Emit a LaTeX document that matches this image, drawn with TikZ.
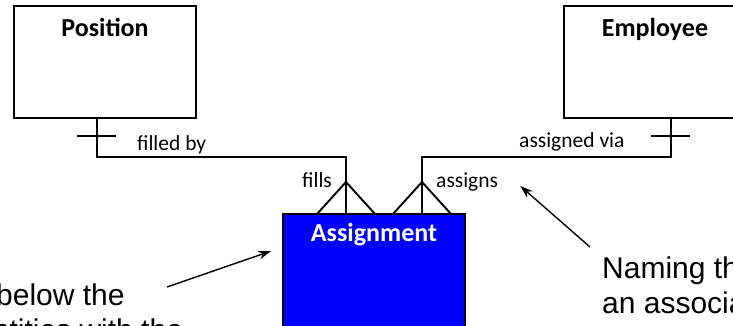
\documentclass[tikz,border=0pt]{standalone}
\usepackage{fontspec}
\setmainfont{Carlito}
\newfontfamily\notefont{Liberation Sans}
\usetikzlibrary{arrows.meta,positioning}
\definecolor{asgblue}{RGB}{0,0,255}

\begin{document}
\begin{tikzpicture}[x=1pt,y=-1pt,
    entity/.style={draw,line width=1.9pt,minimum width=182pt,minimum height=112pt,inner sep=0pt},
    title/.style={font=\fontsize{26}{30}\selectfont\bfseries,anchor=base,inner sep=0pt},
    role/.style={font=\fontsize{21.5}{25}\selectfont,anchor=base west,inner sep=0pt},
    rel/.style={line width=1.9pt},
    note/.style={font=\notefont\fontsize{30}{35}\selectfont,align=left,anchor=base west,inner sep=0pt},
    pointer/.style={-{Stealth[length=4.5mm,width=3mm]},line width=1.4pt}
  ]
    \useasboundingbox (0,0) rectangle (733,326);
    \clip (0,0) rectangle (733,326);

    % entities
    \node[entity] (pos) at (105,62) {};
    \node[title] (posT) at ([yshift=-31pt]pos.north) {Position};
    \node[entity] (emp) at (655,62) {};
    \node[title] (empT) at ([yshift=-31pt]emp.north) {Employee};
    \node[entity,fill=asgblue,minimum height=170pt] (asg) at (374,299) {};
    \node[title,text=white] (asgT) at ([yshift=-28pt]asg.north) {Assignment};

    % relationship lines
    \coordinate (fillC) at (346,157);
    \coordinate (asgnC) at (422,157);
    \coordinate (fillF) at (346,182);
    \coordinate (asgnF) at (422,182);
    \draw[rel] ([xshift=-8pt]pos.south) |- (fillC) -- (fillC |- asg.north);
    \draw[rel] ([xshift=16pt]emp.south) |- (asgnC) -- (asgnC |- asg.north);
    % one ends
    \draw[rel] ([xshift=-8pt,yshift=-17pt]pos.south) ++(-20,0) -- ++(39,0);
    \draw[rel] ([xshift=16pt,yshift=-17pt]emp.south) ++(-20,0) -- ++(39,0);
    % many ends
    \draw[rel] (fillF) -- ++(-29,32) (fillF) -- ++(29,32);
    \draw[rel] (asgnF) -- ++(-29,32) (asgnF) -- ++(29,32);

    % role names
    \node[role] (filledby) at (137,150) {filled by};
    \node[role] (assignedvia) at (519,147) {assigned via};
    \node[role] (fills) at (302,187) {fills};
    \node[role] (assigns) at (436,187) {assigns};

    % notes
    \node[note] (lnote) at (-4,340) {below the\\\hspace*{-20pt}entities with the};
    \node[note] (rnote) at (602,313) {Naming the\\an association};
    \coordinate (lTail) at (167,287);
    \coordinate (rTail) at (590,247);
    \draw[pointer] (lTail) -- ([xshift=-11pt,yshift=-38pt]asg.north west);
    \draw[pointer] (rTail) -- ([xshift=22pt,yshift=1pt]assigns.base east);
  \end{tikzpicture}
\end{document}
